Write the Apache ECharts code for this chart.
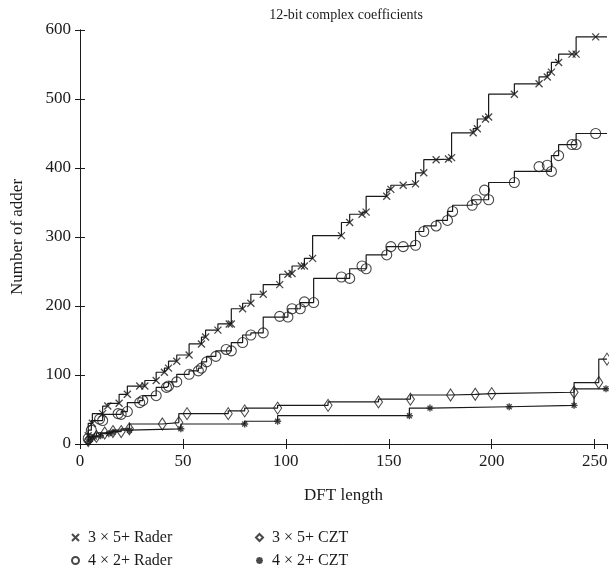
<!doctype html>
<html lang="en">
<head>
    <meta charset="UTF-8">
    <title>12-bit complex coefficients</title>
    <style>
        * {
            margin: 0;
            padding: 0;
        }

        body {
            background: #fff;
        }

        #chart {
            width: 609px;
            height: 581px;
        }
    </style>
</head>
<body>
<script src="https://cdn.jsdelivr.net/npm/echarts@6/dist/echarts.min.js"></script>
<div id="chart"></div>

<script type="application/javascript">
    // DFT lengths and adder counts
    const raderA_x = [4, 6, 11, 13.5, 19, 23, 29, 31.5, 37, 41, 43, 47, 53, 59, 61, 67, 72.5, 73.5, 79, 83, 89, 97, 101, 103, 107.5, 109, 113, 127, 131, 137, 139, 149, 151, 157, 163, 167, 173, 179, 180.5, 191, 193, 197, 198.5, 211, 223, 227, 229, 232.5, 239, 241, 250.5];
    const raderA_y = [12, 30, 44, 55, 59, 72, 84, 84, 92, 104, 110, 120, 129, 145, 155, 165, 174, 174, 196, 204, 217, 231, 246, 247, 258, 258, 269, 302, 321, 333, 336, 359, 369, 375, 377, 393, 412, 413, 415, 451, 457, 471, 474, 507, 522, 532, 539, 553, 565, 565, 590];

    const raderB_x = [4, 5.5, 9.5, 11, 18.5, 20, 23, 29, 30.5, 37, 42, 43, 47, 53, 57.5, 59, 61.5, 66, 71, 73.5, 79, 83, 89, 97, 101, 103, 107, 109, 113.5, 127, 131, 137, 139, 149, 151, 157, 163, 167, 173, 178.5, 181, 190.5, 192.5, 196.5, 198.5, 211, 223, 227, 229, 232.5, 239, 241, 250.5];
    const raderB_y = [8, 20, 36, 34, 44, 43, 47, 60, 63, 70, 82, 84, 90, 101, 106, 110, 119, 127, 137, 135, 147, 158, 161, 185, 184, 196, 196, 206, 205, 242, 240, 258, 254, 274, 286, 286, 288, 308, 316, 324, 337, 346, 354, 368, 354, 379, 402, 404, 395, 418, 434, 434, 450];

    const cztA_x = [4, 8, 12, 16, 20, 24, 40, 48, 52, 72, 80, 96, 120.5, 145, 160.5, 180, 192, 200, 240, 252, 256];
    const cztA_y = [5, 11, 16, 18, 18, 22, 29, 31, 44, 44, 48, 52, 56, 61, 65, 71, 72, 73, 75, 89, 123];

    const cztB_x = [4, 5, 7, 10, 14, 16, 24, 49, 80, 96, 160, 170, 208.5, 240, 255.5];
    const cztB_y = [3, 7, 10, 12, 15, 17, 20, 22, 29, 33, 41, 52, 54, 56, 80];

    const names = ['3 \u00d7 5+ Rader', '4 \u00d7 2+ Rader', '3 \u00d7 5+ CZT', '4 \u00d7 2+ CZT'];
    const xMax = 256;
    const xTicks = 50;
    const yMax = 600;
    const yTicks = 100;

    const ink = '#1a1a1a';
    const serif = 'Liberation Serif';
    const crossIcon = 'path://M0,0L10,10M10,0L0,10';
    const starIcon = 'path://M5,0L5,10M0,5L10,5M1.5,1.5L8.5,8.5M8.5,1.5L1.5,8.5';

    const points = function (xs, ys) {
        return xs.map((x, i) => [x, ys[i]]);
    }

    // the drawn staircase is the lower envelope: smallest value from this point on
    const stairs = function (xs, ys) {
        const out = [];
        let m = Infinity;
        for (let i = xs.length - 1; i >= 0; i--) {
            m = Math.min(m, ys[i]);
            out.unshift([xs[i], m]);
        }
        out.push([xMax, out[out.length - 1][1]]);
        return out;
    }

    const stairSeries = function (xs, ys) {
        return {
            type: 'line',
            step: 'start',
            data: stairs(xs, ys),
            showSymbol: false,
            symbol: 'none',
            silent: true,
            lineStyle: {color: ink, width: 1.2},
            z: 2
        };
    }

    const markSeries = function (name, xs, ys, symbol, size, bw) {
        return {
            name: name,
            type: 'scatter',
            data: points(xs, ys),
            symbol: symbol,
            symbolSize: size,
            silent: true,
            itemStyle: {color: 'rgba(0,0,0,0)', borderColor: ink, borderWidth: bw},
            z: 3
        };
    }

    const legendBox = function (left, data) {
        return {
            left: left,
            top: 524,
            orient: 'vertical',
            itemGap: 6,
            itemWidth: 7,
            itemHeight: 7,
            selectedMode: false,
            textStyle: {fontFamily: serif, fontSize: 16, color: ink, lineHeight: 17, padding: [0, 0, 0, 4]},
            data: data
        };
    }

    const axisBase = {
        axisLine: {lineStyle: {color: ink, width: 1}},
        axisTick: {inside: true, length: 5, lineStyle: {color: ink}},
        splitLine: {show: false}
    };

    const option = {
        animation: false,
        backgroundColor: '#fff',
        title: {
            text: '12-bit complex coefficients',
            left: 341,
            textAlign: 'center',
            top: 3,
            textStyle: {fontFamily: serif, fontSize: 14, fontWeight: 'normal', color: ink}
        },
        grid: {left: 80, right: 2, top: 30, bottom: 137, containLabel: false, outerBoundsMode: 'none'},
        legend: [
            legendBox(66, [{name: names[0], icon: crossIcon}, {name: names[1], icon: 'circle'}]),
            legendBox(250, [{name: names[2], icon: 'diamond'}, {name: names[3], icon: starIcon}])
        ],
        xAxis: [
            Object.assign({}, axisBase, {
                type: 'value', min: 0, max: xMax, interval: xTicks,
                name: 'DFT length', nameLocation: 'middle', nameGap: 43,
                nameTextStyle: {fontFamily: serif, fontSize: 17, color: ink},
                axisLabel: {fontFamily: serif, fontSize: 17, color: ink, margin: 9}
            }),
            Object.assign({}, axisBase, {
                type: 'value', min: 0, max: xMax, interval: xTicks, position: 'top',
                axisLabel: {show: false}
            })
        ],
        yAxis: [
            Object.assign({}, axisBase, {
                type: 'value', min: 0, max: yMax, interval: yTicks,
                name: 'Number of adder', nameLocation: 'middle', nameGap: 54,
                nameTextStyle: {fontFamily: serif, fontSize: 17, color: ink},
                axisLabel: {fontFamily: serif, fontSize: 17, color: ink, margin: 9}
            }),
            Object.assign({}, axisBase, {
                type: 'value', min: 0, max: yMax, interval: yTicks, position: 'right',
                axisLabel: {show: false}
            })
        ],
        series: [
            stairSeries(raderA_x, raderA_y),
            stairSeries(raderB_x, raderB_y),
            stairSeries(cztA_x, cztA_y),
            stairSeries(cztB_x, cztB_y),
            markSeries(names[0], raderA_x, raderA_y, crossIcon, 7, 1.3),
            markSeries(names[1], raderB_x, raderB_y, 'circle', 10, 1.1),
            markSeries(names[2], cztA_x, cztA_y, 'diamond', [8, 12], 1.1),
            markSeries(names[3], cztB_x, cztB_y, starIcon, 7, 1.4)
        ]
    };

    const chart = echarts.init(document.getElementById('chart'));
    chart.setOption(option);
</script>
</body>
</html>
